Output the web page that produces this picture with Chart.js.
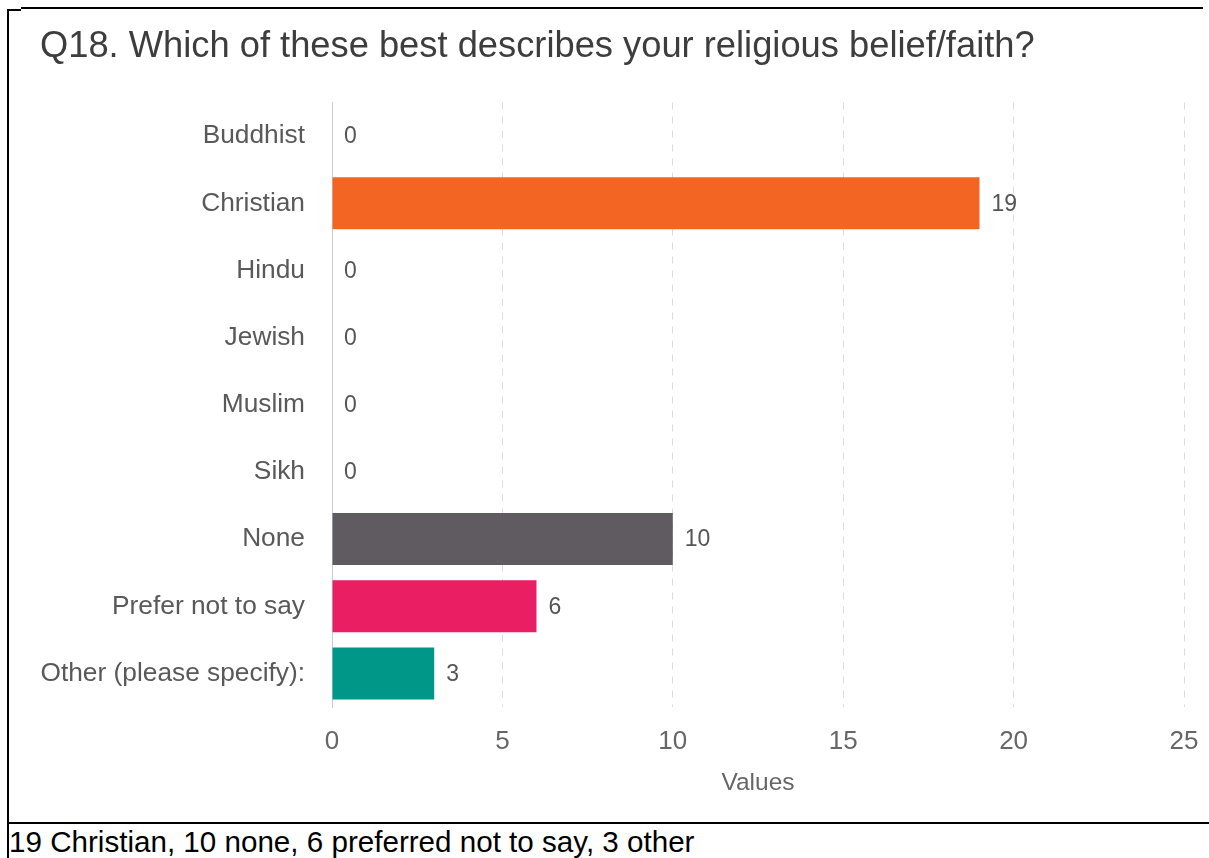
<!DOCTYPE html>
<html>
<head>
<meta charset="utf-8">
<title>Q18 religious belief/faith</title>
<script src="https://cdn.jsdelivr.net/npm/chart.js@4.4.1/dist/chart.umd.min.js"></script>
<style>
  html, body { margin: 0; padding: 0; background: #ffffff; }
  body { width: 1209px; height: 858px; position: relative; overflow: hidden; font-family: "Liberation Sans", Arial, sans-serif; }
  #chart { position: absolute; left: 0; top: 0; }
  .rule { position: absolute; background: #000; }
  #caption { position: absolute; left: 9px; top: 827px; font-size: 29.6px; line-height: 30px; color: #000; white-space: nowrap; }
</style>
</head>
<body>
<canvas id="chart" width="1209" height="822"></canvas>
<!-- cell borders around the chart and its caption row -->
<div class="rule" style="left:21px; top:7px; width:1182px; height:2px;"></div>
<div class="rule" style="left:7px; top:9px; width:14px; height:2px;"></div>
<div class="rule" style="left:7px; top:9px; width:2px; height:849px;"></div>
<div class="rule" style="left:7px; top:822px; width:1202px; height:2px;"></div>
<div id="caption">19 Christian, 10 none, 6 preferred not to say, 3 other</div>
<script>
// Survey answers and their counts
const categories = [
  'Buddhist', 'Christian', 'Hindu', 'Jewish', 'Muslim', 'Sikh',
  'None', 'Prefer not to say', 'Other (please specify):'
];
const counts = [0, 19, 0, 0, 0, 0, 10, 6, 3];
const barColours = [
  '#2f7ed8', '#f26522', '#8bbc21', '#910000', '#1aadce', '#492970',
  '#5f5b61', '#e91e63', '#009688'
];
// Value axis range and step
const axisRange = [0, 25];
const axisStep = 5;

const FONT = '"Liberation Sans", Arial, sans-serif';

// Writes each count just past the end of its bar
const valueLabels = {
  id: 'valueLabels',
  afterDatasetsDraw(chart) {
    const ctx = chart.ctx;
    const meta = chart.getDatasetMeta(0);
    const values = chart.data.datasets[0].data;
    ctx.save();
    ctx.font = '23px ' + FONT;
    ctx.fillStyle = '#555555';
    ctx.textAlign = 'left';
    ctx.textBaseline = 'middle';
    meta.data.forEach((bar, i) => {
      ctx.fillText(String(values[i]), bar.x + 12, bar.y + 1);
    });
    ctx.restore();
  }
};

new Chart(document.getElementById('chart'), {
  type: 'bar',
  data: {
    labels: categories,
    datasets: [{
      data: counts,
      backgroundColor: barColours,
      borderWidth: 0,
      categoryPercentage: 0.9,
      barPercentage: 0.86
    }]
  },
  options: {
    indexAxis: 'y',
    responsive: false,
    animation: false,
    devicePixelRatio: 1,
    layout: { padding: { left: 40, right: 25, top: 13, bottom: 23 } },
    plugins: {
      legend: { display: false },
      tooltip: { enabled: false },
      title: {
        display: true,
        text: 'Q18. Which of these best describes your religious belief/faith?',
        align: 'start',
        color: '#3d3d3d',
        font: { family: FONT, size: 36.3, weight: 'normal' },
        padding: { top: 12, bottom: 34 }
      }
    },
    scales: {
      x: {
        min: axisRange[0],
        max: axisRange[1],
        ticks: {
          stepSize: axisStep,
          padding: 19,
          color: '#666666',
          font: { family: FONT, size: 26 }
        },
        grid: {
          drawTicks: false,
          color: (c) => (c.tick && c.tick.value === 0) ? 'rgba(0,0,0,0)' : '#dcdcdc',
          lineWidth: 1
        },
        border: { display: false, dash: [7, 7] },
        title: {
          display: true,
          text: 'Values',
          color: '#666666',
          font: { family: FONT, size: 24.5 },
          padding: { top: 0, bottom: 1 }
        },
        afterFit(scale) {
          scale.height = 92;
          // the layout padding already leaves room for the end labels
          scale.paddingLeft = 0;
          scale.paddingRight = 0;
        }
      },
      y: {
        ticks: {
          padding: 27,
          color: '#595959',
          font: { family: FONT, size: 26.3 }
        },
        grid: { display: false, drawTicks: false },
        border: { display: true, color: '#c9cedc', width: 1 },
        afterFit(scale) { scale.width = 292; }
      }
    }
  },
  plugins: [valueLabels]
});
</script>
</body>
</html>
